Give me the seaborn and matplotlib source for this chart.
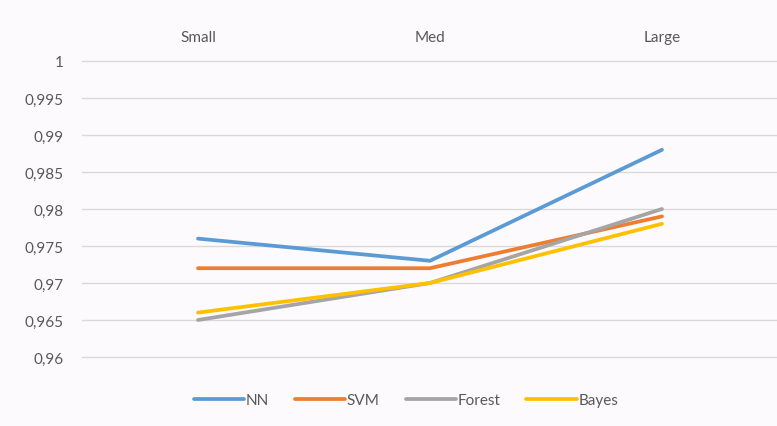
import matplotlib
matplotlib.use("Agg")
import matplotlib.pyplot as plt
from matplotlib.ticker import FuncFormatter, MultipleLocator
import seaborn as sns
import pandas as pd

# Accuracy by dataset size for each classifier
sizes = ["Small", "Med", "Large"]
nn = [0.976, 0.973, 0.988]
svm = [0.972, 0.972, 0.979]
forest = [0.965, 0.970, 0.980]
bayes = [0.966, 0.970, 0.978]

models = ["NN", "SVM", "Forest", "Bayes"]
colors = ["#5B9BD5", "#ED7D31", "#A5A5A5", "#FFC000"]

df = pd.DataFrame({
    "size": sizes * 4,
    "accuracy": nn + svm + forest + bayes,
    "model": [m for m in models for _ in sizes],
})

sns.set_theme(style="white")
plt.rcParams["font.family"] = ["Lato", "DejaVu Sans"]

bg = "#fcfafc"
text_color = "#595959"

fig = plt.figure(figsize=(7.77, 4.27), dpi=100, facecolor=bg)
ax = fig.add_axes([82 / 777, 1 - 358 / 427, 696 / 777, 296 / 427])
ax.set_facecolor(bg)

sns.lineplot(
    data=df, x="size", y="accuracy", hue="model",
    hue_order=models, palette=colors, linewidth=2.7,
    sort=False, ax=ax, legend=True,
)
for line in ax.get_lines():
    line.set_solid_capstyle("round")

ax.set_xlim(-0.5, 2.5)
ax.set_ylim(0.96, 1.0)
ax.yaxis.set_major_locator(MultipleLocator(0.005))
ax.yaxis.set_major_formatter(
    FuncFormatter(lambda v, _: f"{round(v, 4):g}".replace(".", ","))
)
ax.grid(axis="y", color="#d9d9d9", linewidth=1.0)
ax.set_axisbelow(True)
for g in ax.yaxis.get_gridlines():
    g.set_clip_on(False)
for s in ax.spines.values():
    s.set_visible(False)

ax.xaxis.tick_top()
ax.tick_params(axis="x", length=0, pad=12, labelsize=11, labelcolor=text_color)
ax.tick_params(axis="y", length=0, pad=13, labelsize=11, labelcolor=text_color)
ax.set_xlabel("")
ax.set_ylabel("")

handles, labels = ax.get_legend_handles_labels()
ax.legend(
    handles, labels, loc="center", bbox_to_anchor=(406 / 777, 1 - 401 / 427),
    bbox_transform=fig.transFigure, ncol=4, frameon=False,
    handlelength=3.3, handletextpad=0.1, columnspacing=1.7,
    fontsize=11, labelcolor=text_color,
)
for h in ax.get_legend().get_lines():
    h.set_linewidth(2.7)

fig.savefig("out.png", dpi=100, facecolor=bg)
